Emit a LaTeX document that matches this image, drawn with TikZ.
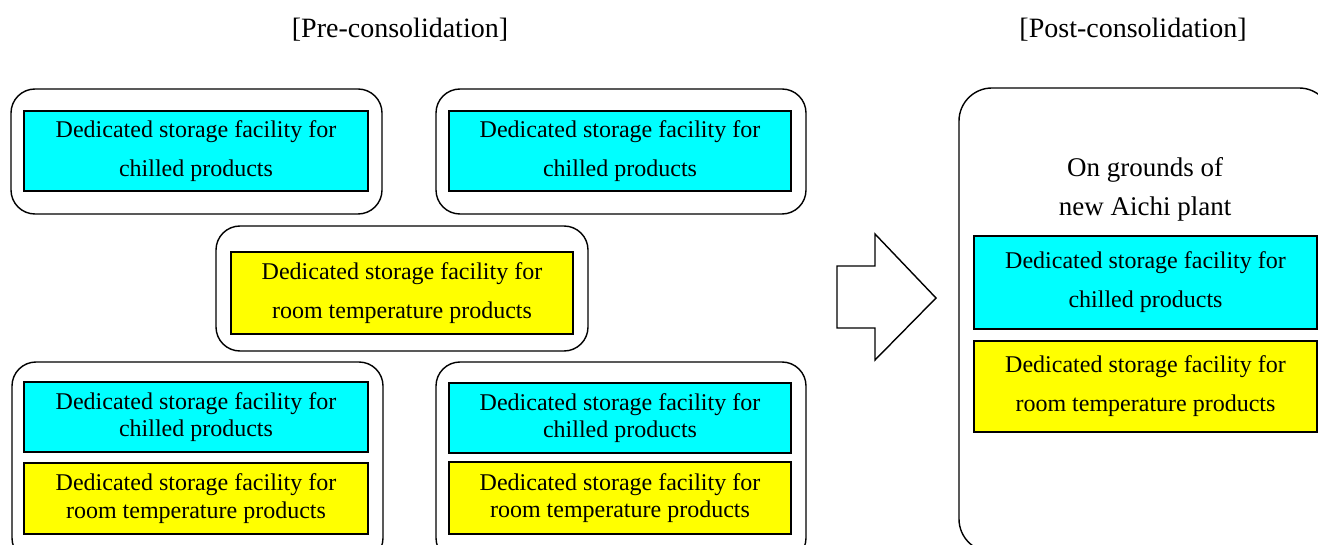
\documentclass[tikz,border=0pt]{standalone}
\usepackage{fontspec}
\setmainfont{Liberation Serif}
\begin{document}
\begin{tikzpicture}[x=1bp,y=-1bp,
  every node/.style={inner sep=0pt, outer sep=0pt},
  outerbox/.style={draw, line width=1.4bp, rounded corners=24bp},
  chill/.style={draw, fill=cyanfill, line width=1.4bp, align=center},
  room/.style={draw, fill=yellowfill, line width=1.4bp, align=center},
  wide/.style={font=\fontsize{24bp}{39bp}\selectfont, align=center},
  tight/.style={font=\fontsize{24bp}{27.5bp}\selectfont},
  heading/.style={font=\fontsize{28bp}{32bp}\selectfont},
  grounds/.style={font=\fontsize{27bp}{39bp}\selectfont, align=center}]
\definecolor{cyanfill}{RGB}{0,255,255}
\definecolor{yellowfill}{RGB}{255,255,0}
\useasboundingbox (0,0) rectangle (1318,545);
\clip (0,0) rectangle (1318,545);
% headings
\node[heading] (pre) at (400,30) {[Pre-consolidation]};
\node[heading] (post) at (1133,30) {[Post-consolidation]};
% top-left
\node[outerbox, minimum width=371bp, minimum height=125bp] (tl) at (196.5,151.5) {};
\node[chill, wide, minimum width=344bp, minimum height=80bp] (tlc) at (196,151) {Dedicated storage facility for\\chilled products};
% top-right
\node[outerbox, minimum width=370bp, minimum height=125bp] (tr) at (621,151.5) {};
\node[chill, wide, minimum width=342bp, minimum height=80bp] (trc) at (620,151) {Dedicated storage facility for\\chilled products};
% middle
\node[outerbox, minimum width=372bp, minimum height=125bp] (mid) at (402,288.5) {};
\node[room, wide, minimum width=342bp, minimum height=82bp] (midy) at (402,293) {Dedicated storage facility for\\room temperature products};
% bottom-left
\node[outerbox, minimum width=371bp, minimum height=200bp] (bl) at (197.5,462) {};
\node[chill, tight, minimum width=344bp, minimum height=70bp] (blc) at (196,417) {Dedicated storage facility for\\chilled products};
\node[room, tight, minimum width=344bp, minimum height=71bp] (bly) at (196,498.5) {Dedicated storage facility for\\room temperature products};
% bottom-right
\node[outerbox, minimum width=370bp, minimum height=200bp] (br) at (621,462) {};
\node[chill, tight, minimum width=342bp, minimum height=70bp] (brc) at (620,418) {Dedicated storage facility for\\chilled products};
\node[room, tight, minimum width=342bp, minimum height=72bp] (bry) at (620,498) {Dedicated storage facility for\\room temperature products};
% arrow
\draw[line width=1.4bp, line join=miter] (837,266) -- (875,266) -- (875,234) -- (936,298) -- (875,360) -- (875,328) -- (837,328) -- cycle;
% right box
\draw[line width=1.4bp, rounded corners=33bp] (959,88) rectangle (1332,552);
\node[grounds] (lbl) at (1145,189) {On grounds of\\new Aichi plant};
\node[chill, wide, minimum width=343bp, minimum height=93bp] (rc) at (1145.5,282.5) {Dedicated storage facility for\\chilled products};
\node[room, wide, minimum width=343bp, minimum height=91bp] (ry) at (1145.5,386.5) {Dedicated storage facility for\\room temperature products};
\end{tikzpicture}
\end{document}
